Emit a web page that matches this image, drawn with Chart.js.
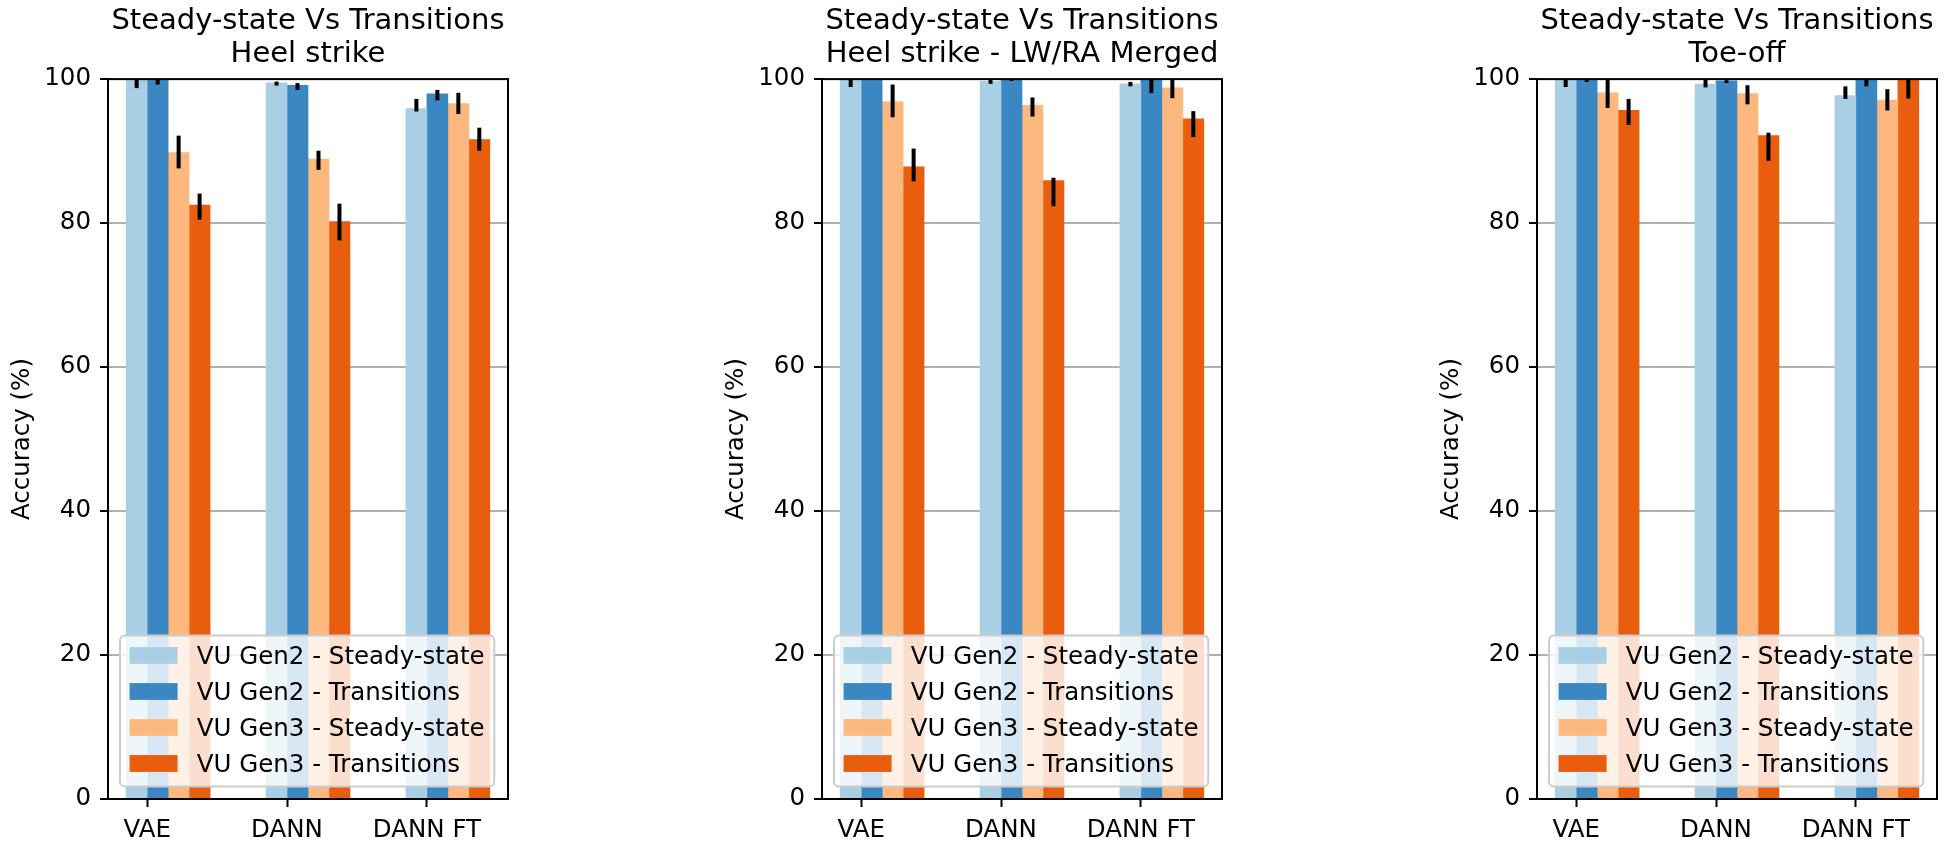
<!DOCTYPE html>
<html>
<head>
<meta charset="utf-8">
<script src="https://cdn.jsdelivr.net/npm/chart.js@4"></script>
<style>
  html, body { margin: 0; padding: 0; background: #fff; overflow: hidden; }
  .panel { position: absolute; top: 0; width: 521px; height: 848px; }
</style>
</head>
<body>
<div class="panel" style="left:0px"><canvas id="chart-heel" width="521" height="848"></canvas></div>
<div class="panel" style="left:714px"><canvas id="chart-merged" width="521" height="848"></canvas></div>
<div class="panel" style="left:1429px"><canvas id="chart-toe" width="521" height="848"></canvas></div>
<script>
const categories = ['VAE', 'DANN', 'DANN FT'];
const seriesNames = [
    'VU Gen2 - Steady-state',
    'VU Gen2 - Transitions',
    'VU Gen3 - Steady-state',
    'VU Gen3 - Transitions',
];
const seriesColors = ['#a9cfe5', '#3a87c2', '#fdb87f', '#e95d0e'];
const yTicks = [0, 20, 40, 60, 80, 100];

// rows = series (same order as seriesNames), columns = categories
const heelStrikeAcc = [
    [99.9, 99.5, 95.9],
    [99.9, 99.15, 97.95],
    [89.8, 88.9, 96.6],
    [82.5, 80.2, 91.6],
];
const heelStrikeErrLow = [
    [1.15, 0.4, 0.4],
    [0.65, 0.65, 0.9],
    [2.2, 1.5, 1.45],
    [2.0, 2.6, 1.55],
];
const heelStrikeErrHigh = [
    [1.15, 0.15, 1.35],
    [0.65, 0.3, 0.55],
    [2.35, 1.15, 1.5],
    [1.6, 2.5, 1.65],
];

const mergedAcc = [
    [99.9, 99.7, 99.35],
    [100, 99.95, 99.95],
    [96.85, 96.35, 98.8],
    [87.8, 85.9, 94.5],
];
const mergedErrLow = [
    [1.0, 0.35, 0.35],
    [0.1, 0.2, 1.9],
    [2.15, 1.55, 1.45],
    [2.0, 3.55, 2.55],
];
const mergedErrHigh = [
    [1.0, 0.2, 0.25],
    [0.1, 0.1, 1.9],
    [2.4, 1.1, 1.4],
    [2.55, 0.4, 1.05],
];

const toeOffAcc = [
    [99.9, 99.3, 97.7],
    [99.9, 99.75, 99.9],
    [98.1, 98.0, 97.1],
    [95.65, 92.15, 99.9],
];
const toeOffErrLow = [
    [1.0, 0.45, 0.45],
    [0.3, 0.3, 0.9],
    [2.1, 1.5, 1.45],
    [2.0, 3.5, 2.6],
];
const toeOffErrHigh = [
    [1.0, 0.8, 1.3],
    [0.3, 0.1, 0.9],
    [2.1, 1.15, 1.5],
    [1.6, 0.4, 2.6],
];

const BAR_W = 0.15;
const FONT = "'DejaVu Sans', sans-serif";

Chart.defaults.font.family = FONT;
Chart.defaults.color = '#000';

// error bars, legend box (inside the axes, lower left) and the axes frame
const overlayPlugin = {
    id: 'overlay',
    afterDatasetsDraw(chart) {
        const { ctx, chartArea } = chart;
        const yScale = chart.scales.y;

        // error bars
        ctx.save();
        ctx.beginPath();
        ctx.rect(chartArea.left, chartArea.top, chartArea.width, chartArea.height);
        ctx.clip();
        ctx.strokeStyle = '#000';
        ctx.lineWidth = 4;
        chart.data.datasets.forEach((ds, i) => {
            chart.getDatasetMeta(i).data.forEach((bar, j) => {
                const v = ds.data[j].y;
                ctx.beginPath();
                ctx.moveTo(bar.x, yScale.getPixelForValue(v - ds.errLow[j]));
                ctx.lineTo(bar.x, yScale.getPixelForValue(v + ds.errHigh[j]));
                ctx.stroke();
            });
        });
        ctx.restore();

        // legend
        const fs = 24.5;
        const pad = 9.6, handleW = 48, handleH = 16.8, textPad = 19.2, rowH = 36;
        ctx.save();
        ctx.font = `${fs}px ${FONT}`;
        const textW = Math.max(...chart.data.datasets.map(d => ctx.measureText(d.label).width));
        const boxW = pad * 2 + handleW + textPad + textW;
        const boxH = 151;
        const bx = chartArea.left + 12;
        const by = chartArea.bottom - 12.5 - boxH;
        ctx.beginPath();
        ctx.roundRect(bx, by, boxW, boxH, 5);
        ctx.fillStyle = 'rgba(255,255,255,0.8)';
        ctx.fill();
        ctx.strokeStyle = '#cccccc';
        ctx.lineWidth = 2;
        ctx.stroke();
        chart.data.datasets.forEach((ds, i) => {
            const cy = by + 20 + i * rowH;
            ctx.fillStyle = ds.backgroundColor;
            ctx.fillRect(bx + pad, cy - handleH / 2, handleW, handleH);
            ctx.fillStyle = '#000';
            ctx.textAlign = 'left';
            ctx.textBaseline = 'alphabetic';
            ctx.fillText(ds.label, bx + pad + handleW + textPad, cy + 8.9);
        });
        ctx.restore();

        // axes frame
        ctx.save();
        ctx.strokeStyle = '#000';
        ctx.lineWidth = 2;
        ctx.strokeRect(chartArea.left, chartArea.top, chartArea.width, chartArea.height);
        ctx.restore();
    }
};

function makeChart(canvasId, titleLines, acc, errLow, errHigh) {
    const datasets = seriesNames.map((name, k) => ({
        label: name,
        data: categories.map((c, j) => ({ x: j + (k - 0.5) * BAR_W, y: acc[k][j] })),
        errLow: errLow[k],
        errHigh: errHigh[k],
        backgroundColor: seriesColors[k],
        borderWidth: 0,
        grouped: false,
        categoryPercentage: 1,
        barPercentage: 1,
    }));

    return new Chart(document.getElementById(canvasId), {
        type: 'bar',
        data: { datasets },
        options: {
            responsive: false,
            animation: false,
            layout: { padding: { left: 0, right: 13, top: 0, bottom: 0 } },
            plugins: {
                legend: { display: false },
                tooltip: { enabled: false },
                title: {
                    display: true,
                    text: titleLines,
                    fullSize: false,
                    color: '#000',
                    font: { size: 29, weight: 'normal', lineHeight: 1.14 },
                    padding: { top: 5, bottom: 8 },
                },
            },
            scales: {
                x: {
                    type: 'linear',
                    offset: false,
                    min: -0.28,
                    max: 2.58,
                    afterBuildTicks: scale => {
                        scale.ticks = categories.map((c, i) => ({ value: i }));
                    },
                    afterFit: scale => { scale.height = 49; },
                    ticks: {
                        callback: v => categories[v],
                        autoSkip: false,
                        maxRotation: 0,
                        padding: 9,
                        color: '#000',
                        font: { size: 24.5 },
                    },
                    grid: {
                        offset: false,
                        drawOnChartArea: false,
                        drawTicks: true,
                        tickLength: 8,
                        tickColor: '#000',
                        tickWidth: 2,
                    },
                    border: { display: false },
                },
                y: {
                    min: 0,
                    max: 100,
                    afterBuildTicks: scale => {
                        scale.ticks = yTicks.map(v => ({ value: v }));
                    },
                    afterFit: scale => { scale.width = 108; },
                    ticks: {
                        padding: 9,
                        color: '#000',
                        font: { size: 24.5 },
                    },
                    grid: {
                        color: '#b0b0b0',
                        lineWidth: 2,
                        drawTicks: true,
                        tickLength: 8,
                        tickColor: '#000',
                        tickWidth: 2,
                    },
                    border: { display: false },
                    title: {
                        display: true,
                        text: 'Accuracy (%)',
                        color: '#000',
                        font: { size: 24.5 },
                        padding: { top: 8, bottom: 0 },
                    },
                },
            },
        },
        plugins: [overlayPlugin],
    });
}

makeChart('chart-heel', ['Steady-state Vs Transitions', 'Heel strike'],
    heelStrikeAcc, heelStrikeErrLow, heelStrikeErrHigh);
makeChart('chart-merged', ['Steady-state Vs Transitions', 'Heel strike - LW/RA Merged'],
    mergedAcc, mergedErrLow, mergedErrHigh);
makeChart('chart-toe', ['Steady-state Vs Transitions', 'Toe-off'],
    toeOffAcc, toeOffErrLow, toeOffErrHigh);
</script>
</body>
</html>
